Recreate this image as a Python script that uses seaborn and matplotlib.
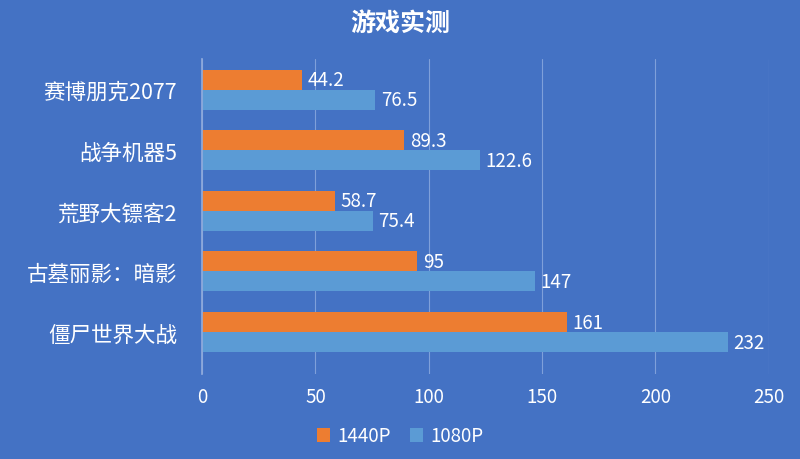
import matplotlib
matplotlib.use("Agg")
import matplotlib.pyplot as plt
import seaborn as sns
import pandas as pd

games = ["赛博朋克2077", "战争机器5", "荒野大镖客2", "古墓丽影：暗影", "僵尸世界大战"]
fps_1440 = [44.2, 89.3, 58.7, 95, 161]
fps_1080 = [76.5, 122.6, 75.4, 147, 232]
labels_1440 = ["44.2", "89.3", "58.7", "95", "161"]
labels_1080 = ["76.5", "122.6", "75.4", "147", "232"]
series = ["1440P", "1080P"]

df = pd.DataFrame({
    "game": games * 2,
    "fps": fps_1440 + fps_1080,
    "res": [series[0]] * 5 + [series[1]] * 5,
})

sns.set_theme(style="white")
plt.rcParams['font.family'] = ['Noto Sans CJK SC', 'DejaVu Sans']
bg = "#4472C4"
fig = plt.figure(figsize=(8, 4.6), dpi=100, facecolor=bg)
ax = fig.add_axes([0.2525, 0.185, 0.7085, 0.685], facecolor=bg)

sns.barplot(data=df, y="game", x="fps", hue="res", orient="h", ax=ax,
            palette={"1440P": "#ED7D31", "1080P": "#5B9BD5"}, width=0.66,
            saturation=1, edgecolor="none", legend=True)

for cont, labs in zip(ax.containers, [labels_1440, labels_1080]):
    ax.bar_label(cont, labels=labs, padding=4, color="white", fontsize=13.5)

ax.set_xlim(0, 250)
ax.set_ylim(4.69, -0.51)
ax.set_xticks([0, 50, 100, 150, 200, 250])
ax.grid(axis="x", color="#7FA0DA", linewidth=0.8)
ax.set_axisbelow(True)
for s in ax.spines.values():
    s.set_visible(False)
ax.spines["left"].set_visible(True)
ax.spines["left"].set_color("#8FAADC")
ax.tick_params(axis="x", colors="white", labelsize=13.5, pad=9, length=0)
ax.tick_params(axis="y", colors="white", labelsize=15.5, pad=18, length=0)
ax.set_xlabel("")
ax.set_ylabel("")

h, l = ax.get_legend_handles_labels()
ax.get_legend().remove()
fig.legend(h, l, loc="center", bbox_to_anchor=(0.5, 0.05), ncol=2, frameon=False,
           labelcolor="white", fontsize=13.5, handlelength=0.7, handleheight=0.7,
           columnspacing=1.0, handletextpad=0.4)

fig.suptitle("游戏实测", color="white", fontsize=18, fontweight="bold", y=0.975)
fig.savefig("out.png", dpi=100, facecolor=bg)
